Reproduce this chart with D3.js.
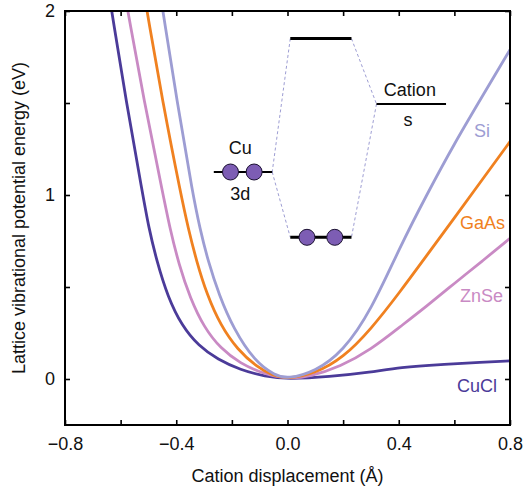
<!DOCTYPE html>
<html>
<head>
<meta charset="utf-8">
<script src="https://cdn.jsdelivr.net/npm/d3@7"></script>
<style>
  body { margin: 0; background: #fff; }
  text { font-family: "Liberation Sans", Arial, sans-serif; }
</style>
</head>
<body>
<div id="chart"></div>
<script>
// values: [displacement (Å), energy (eV)]
const cuclPts = [[-0.632, 2.0], [-0.578, 1.489], [-0.52, 1.0], [-0.5, 0.83], [-0.47, 0.64], [-0.43, 0.445],
    [-0.38, 0.29], [-0.32, 0.18], [-0.25, 0.105], [-0.17, 0.05], [-0.08, 0.013], [0, 0], [0.15, 0.012],
    [0.3, 0.038], [0.405, 0.063], [0.55, 0.079], [0.7, 0.091], [0.8, 0.098]];
const znsePts = [[-0.574, 2.0], [-0.513, 1.489], [-0.447, 1.0], [-0.423, 0.82], [-0.39, 0.62], [-0.35, 0.44],
    [-0.3, 0.28], [-0.24, 0.165], [-0.17, 0.085], [-0.09, 0.03], [0, 0], [0.08, 0.013], [0.19, 0.067],
    [0.3, 0.16], [0.405, 0.284], [0.5, 0.395], [0.6, 0.52], [0.7, 0.64], [0.8, 0.765]];
const gaasPts = [[-0.505, 2.0], [-0.447, 1.489], [-0.383, 1.0], [-0.357, 0.819], [-0.327, 0.64], [-0.29, 0.46],
    [-0.24, 0.29], [-0.18, 0.16], [-0.11, 0.065], [-0.05, 0.016], [0, 0], [0.1, 0.03], [0.2, 0.115],
    [0.3, 0.27], [0.405, 0.474], [0.5, 0.67], [0.6, 0.875], [0.7, 1.083], [0.8, 1.29]];
const siPts = [[-0.448, 2.0], [-0.395, 1.489], [-0.34, 1.0], [-0.315, 0.819], [-0.285, 0.637], [-0.246, 0.457],
    [-0.195, 0.275], [-0.117, 0.094], [-0.045, 0.02], [0, 0], [0.1, 0.04], [0.2, 0.15], [0.3, 0.37],
    [0.405, 0.72], [0.5, 1.0], [0.6, 1.28], [0.7, 1.535], [0.8, 1.79]];

const seriesNames = ["CuCl", "ZnSe", "GaAs", "Si"];
const seriesColors = ["#4b3b99", "#c98ac4", "#f08120", "#9d9dd3"];
// label anchor (right end) and baseline, in data units
const labelPos = [[0.753, -0.07], [0.775, 0.418], [0.782, 0.815], [0.728, 1.315]];

const xTicks = [-0.8, -0.6, -0.4, -0.2, 0, 0.2, 0.4, 0.6, 0.8];
const xLabelled = [-0.8, -0.4, 0, 0.4, 0.8];
const yTicks = [0, 0.5, 1, 1.5, 2];
const yLabelled = [0, 1, 2];

// inset energy-level sketch, in data units
const levelTop = {x0: 0.01, x1: 0.23, e: 1.85};
const levelLow = {x0: 0.01, x1: 0.23, e: 0.77};
const levelCu = {x0: -0.265, x1: -0.055, e: 1.125};
const levelS = {x0: 0.32, x1: 0.57, e: 1.495};
const cuDots = [-0.205, -0.12];
const lowDots = [0.07, 0.17];

const W = 523, H = 488;
const margin = {top: 11, right: 13, bottom: 63, left: 65};
const width = W - margin.left - margin.right;
const height = H - margin.top - margin.bottom;

const svg = d3.select("#chart").append("svg")
    .attr("width", W)
    .attr("height", H);
const g = svg.append("g")
    .attr("transform", `translate(${margin.left},${margin.top})`);

const x = d3.scaleLinear().domain([-0.8, 0.8]).range([0, width]);
const y = d3.scaleLinear().domain([-0.25, 2]).range([height, 0]);

g.append("clipPath").attr("id", "clip")
    .append("rect").attr("width", width).attr("height", height);

// curves
const line = d3.line()
    .x(d => x(d[0]))
    .y(d => y(d[1]))
    .curve(d3.curveBasis);

[cuclPts, znsePts, gaasPts, siPts].forEach((pts, i) => {
    g.append("path")
        .datum(pts)
        .attr("clip-path", "url(#clip)")
        .attr("fill", "none")
        .attr("stroke", seriesColors[i])
        .attr("stroke-width", 2.8)
        .attr("d", line);
    g.append("text")
        .attr("x", x(labelPos[i][0]))
        .attr("y", y(labelPos[i][1]))
        .attr("text-anchor", "end")
        .attr("font-size", 18)
        .attr("fill", seriesColors[i])
        .text(seriesNames[i]);
});

// inset
const dash = "#9d9dd3";
function dashed(a, b) {
    g.append("line")
        .attr("x1", x(a[0])).attr("y1", y(a[1]))
        .attr("x2", x(b[0])).attr("y2", y(b[1]))
        .attr("stroke", dash).attr("stroke-width", 1)
        .attr("stroke-dasharray", "3,2.5");
}
dashed([levelTop.x0, levelTop.e], [levelCu.x1, levelCu.e]);
dashed([levelCu.x1, levelCu.e], [levelLow.x0, levelLow.e]);
dashed([levelTop.x1, levelTop.e], [levelS.x0, levelS.e]);
dashed([levelS.x0, levelS.e], [levelLow.x1, levelLow.e]);

function level(l, w) {
    g.append("line")
        .attr("x1", x(l.x0)).attr("x2", x(l.x1))
        .attr("y1", y(l.e)).attr("y2", y(l.e))
        .attr("stroke", "#000").attr("stroke-width", w);
}
level(levelTop, 3);
level(levelLow, 3);
level(levelCu, 2);
level(levelS, 2);

function dots(xs, e) {
    g.selectAll(null).data(xs).join("circle")
        .attr("cx", d => x(d))
        .attr("cy", y(e))
        .attr("r", 8)
        .attr("fill", "#7d5db4")
        .attr("stroke", "#1a1030")
        .attr("stroke-width", 1);
}
dots(cuDots, levelCu.e);
dots(lowDots, levelLow.e);

function label(txt, px, e) {
    g.append("text")
        .attr("x", x(px)).attr("y", y(e))
        .attr("text-anchor", "middle")
        .attr("font-size", 18)
        .attr("fill", "#111")
        .text(txt);
}
label("Cu", -0.17, 1.223);
label("3d", -0.17, 0.973);
label("Cation", 0.44, 1.538);
label("s", 0.433, 1.375);

// axes
const fmtX = d => xLabelled.some(v => Math.abs(v - d) < 1e-9) ? d3.format(".1f")(d) : "";
const fmtY = d => yLabelled.includes(d) ? d3.format("d")(d) : "";

function styleAxis(sel) {
    sel.select(".domain").remove();
    sel.selectAll(".tick line").attr("stroke", "#000").attr("stroke-width", 1.6);
    sel.selectAll(".tick text").attr("font-size", 18).attr("fill", "#111")
        .style("font-family", '"Liberation Sans", Arial, sans-serif');
}

g.append("g")
    .attr("transform", `translate(0,${height})`)
    .call(d3.axisBottom(x).tickValues(xTicks).tickSize(-5).tickPadding(12).tickFormat(fmtX))
    .call(styleAxis);
g.append("g")
    .call(d3.axisTop(x).tickValues(xTicks).tickSize(-5).tickFormat(""))
    .call(styleAxis);
g.append("g")
    .call(d3.axisLeft(y).tickValues(yTicks).tickSize(-5).tickPadding(10).tickFormat(fmtY))
    .call(styleAxis);
g.append("g")
    .attr("transform", `translate(${width},0)`)
    .call(d3.axisRight(y).tickValues(yTicks).tickSize(-5).tickFormat(""))
    .call(styleAxis);

g.append("rect")
    .attr("width", width)
    .attr("height", height)
    .attr("fill", "none")
    .attr("stroke", "#000")
    .attr("stroke-width", 2);

g.append("text")
    .attr("x", width / 2)
    .attr("y", height + 57)
    .attr("text-anchor", "middle")
    .attr("font-size", 18)
    .attr("fill", "#111")
    .text("Cation displacement (Å)");

g.append("text")
    .attr("transform", `translate(${25 - margin.left},${height / 2}) rotate(-90)`)
    .attr("text-anchor", "middle")
    .attr("font-size", 18)
    .attr("fill", "#111")
    .text("Lattice vibrational potential energy (eV)");
</script>
</body>
</html>
